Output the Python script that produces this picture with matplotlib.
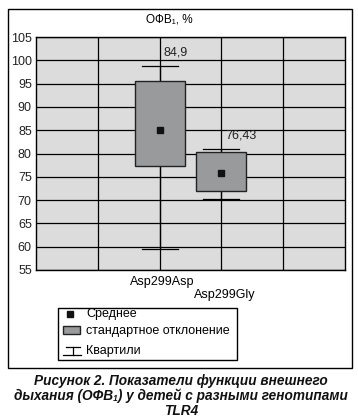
import matplotlib.pyplot as plt
from matplotlib.patches import Rectangle
from matplotlib.lines import Line2D

plt.rcParams['font.family'] = ['Liberation Sans', 'DejaVu Sans']

groups = ['Asp299Asp', 'Asp299Gly']
xpos = [2, 3]
means = [85.0, 75.9]
mean_labels = ['84,9', '76,43']
sd_low = [77.3, 71.9]
sd_high = [95.5, 80.3]
q_low = [59.5, 70.2]
q_high = [98.7, 80.9]
yticks = [55, 60, 65, 70, 75, 80, 85, 90, 95, 100, 105]

W, H = 358, 420
fig = plt.figure(figsize=(W / 100, H / 100), dpi=100)

# plot area in pixel coords of the reference
ax = fig.add_axes([36 / W, 1 - 270 / H, 309 / W, 233 / H])
ax.set_facecolor('#dcdcdc')
ax.set_xlim(0, 5)
ax.set_ylim(55, 105)
ax.set_yticks(yticks)
ax.set_xticks([])
ax.tick_params(axis='y', length=0, pad=3, labelsize=9, labelcolor='#222222')
for v in yticks:
    ax.axhline(v, color='black', lw=0.9, zorder=1)
for v in [1, 2, 3, 4]:
    ax.axvline(v, color='black', lw=0.9, zorder=1)
for s in ax.spines.values():
    s.set_color('black')
    s.set_linewidth(1.0)

bw = 0.81
cw = 0.58
for i, x in enumerate(xpos):
    ax.plot([x, x], [q_low[i], sd_low[i]], color='black', lw=0.9, zorder=2)
    ax.plot([x, x], [sd_high[i], q_high[i]], color='black', lw=0.9, zorder=2)
    ax.plot([x - cw / 2, x + cw / 2], [q_low[i], q_low[i]], color='black', lw=0.9, zorder=2)
    ax.plot([x - cw / 2, x + cw / 2], [q_high[i], q_high[i]], color='black', lw=0.9, zorder=2)
    ax.add_patch(Rectangle((x - bw / 2, sd_low[i]), bw, sd_high[i] - sd_low[i],
                           facecolor='#999a9c', edgecolor='#222222', lw=1.0, zorder=3))
    ax.plot(x, means[i], 's', color='#111111', ms=4.5, zorder=4)
    ax.text(x + 0.06, q_high[i] + 1.7, mean_labels[i], fontsize=9, color='#222222',
            va='bottom', ha='left')

tr = ax.get_xaxis_transform()
ax.text(xpos[0] + 0.05, -0.052, groups[0], transform=tr, ha='center', va='center', fontsize=9)
ax.text(xpos[1] + 0.06, -0.107, groups[1], transform=tr, ha='center', va='center', fontsize=9)

fig.text(169 / W, 1 - 20 / H, 'ОФВ\u2081, %', ha='center', va='center', fontsize=8.5)

# outer frame
fig.add_artist(Rectangle((8 / W, 1 - 368 / H), 344 / W, 359 / H, transform=fig.transFigure,
                         fill=False, edgecolor='black', lw=1.0))

# legend drawn in pixel coordinates
lg = fig.add_axes([0, 0, 1, 1], facecolor='none')
lg.set_xlim(0, W)
lg.set_ylim(H, 0)
lg.axis('off')
lg.add_patch(Rectangle((58, 307.5), 179, 52.5, fill=False, edgecolor='black', lw=1.0))
lg.plot(70, 314, 's', color='#111111', ms=4.5)
lg.add_patch(Rectangle((63, 326), 17, 8, facecolor='#999a9c', edgecolor='#222222', lw=1.0))
lg.add_line(Line2D([65.5, 80], [346.5, 346.5], color='black', lw=0.9))
lg.add_line(Line2D([72.5, 72.5], [346.5, 355], color='black', lw=0.9))
lg.add_line(Line2D([63, 81], [355, 355], color='black', lw=0.9))
lg.text(86, 314, 'Среднее', va='center', fontsize=9)
lg.text(86, 331, 'стандартное отклонение', va='center', fontsize=9)
lg.text(86, 351, 'Квартили', va='center', fontsize=9)

caption = ['Рисунок 2. Показатели функции внешнего',
           'дыхания (ОФВ\u2081) у детей с разными генотипами',
           'TLR4']
for k, line in enumerate(caption):
    lg.text(181, 381 + k * 15, line, ha='center', va='center', fontsize=9.8,
            fontweight='bold', fontstyle='italic', color='#111111')

fig.savefig('out.png', dpi=100)
